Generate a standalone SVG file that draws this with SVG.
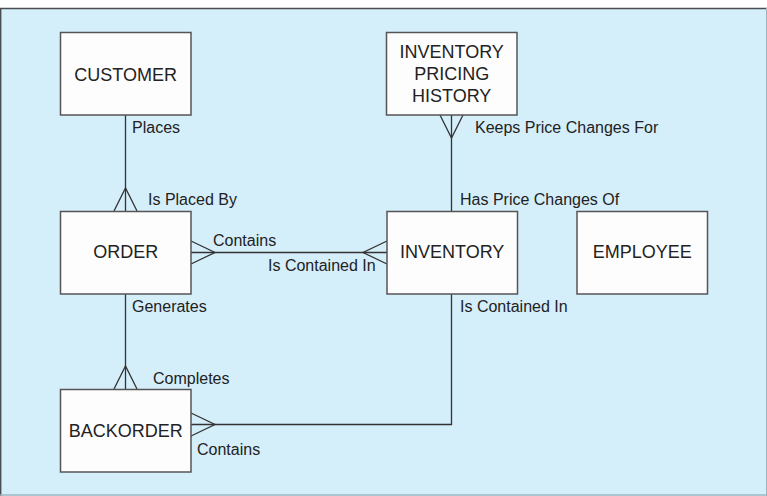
<svg xmlns="http://www.w3.org/2000/svg" width="767" height="496" viewBox="0 0 767 496">
<style>
.node rect{fill:#fdfdfd;stroke:#555;stroke-width:1.5}
.node text{font-family:"Liberation Sans",Arial,sans-serif;font-size:18px;fill:#222;text-anchor:middle}
.conn path{fill:none;stroke:#333;stroke-width:1.3}
.lbl{font-family:"Liberation Sans",Arial,sans-serif;font-size:16px;fill:#222}
</style>
<rect x="0" y="8" width="767" height="488" fill="#d4eefa"/>
<line x1="0" y1="8.5" x2="767" y2="8.5" stroke="#4a4d52" stroke-width="1.6"/>
<line x1="0.7" y1="8" x2="0.7" y2="496" stroke="#4a4d52" stroke-width="1.4"/>
<line x1="0" y1="495" x2="767" y2="495" stroke="#9fb4c2" stroke-width="1.4"/>
<line x1="766.5" y1="8" x2="766.5" y2="496" stroke="#9fb4c2" stroke-width="1"/>
<g class="conn">
<path d="M125.5 115 V211"/>
<path d="M114 211 L125.5 188 L137 211"/>
<path d="M191 252.5 H387"/>
<path d="M191 241 L215 252.5 L191 264"/>
<path d="M387 241 L363 252.5 L387 264"/>
<path d="M451.5 115 V211"/>
<path d="M440 115 L451.5 138 L463 115"/>
<path d="M125.5 294 V389"/>
<path d="M114 389 L125.5 366 L137 389"/>
<path d="M191 424.5 H451.5 V294"/>
<path d="M191 413 L215 424.5 L191 436"/>
</g>
<g id="customer" class="node"><rect x="60.5" y="32.5" width="130.5" height="82.5"/><text x="125.7" y="81">CUSTOMER</text></g>
<g id="order" class="node"><rect x="60.5" y="211.5" width="130.5" height="82.5"/><text x="125.7" y="258">ORDER</text></g>
<g id="inventory" class="node"><rect x="387" y="211.5" width="130.5" height="82.5"/><text x="452.2" y="258">INVENTORY</text></g>
<g id="employee" class="node"><rect x="577" y="211.5" width="130.5" height="82.5"/><text x="642.2" y="258">EMPLOYEE</text></g>
<g id="backorder" class="node"><rect x="60.5" y="389.5" width="130.5" height="82.5"/><text x="125.7" y="437">BACKORDER</text></g>
<g id="pricing_history" class="node"><rect x="386.5" y="32.5" width="130.5" height="82.5"/><text x="451.7" y="58">INVENTORY</text><text x="451.7" y="80">PRICING</text><text x="451.7" y="102">HISTORY</text></g>
<g id="labels">
<text class="lbl" x="132" y="133">Places</text>
<text class="lbl" x="148" y="205">Is Placed By</text>
<text class="lbl" x="213" y="246">Contains</text>
<text class="lbl" x="268" y="271">Is Contained In</text>
<text class="lbl" x="132" y="312">Generates</text>
<text class="lbl" x="153" y="384">Completes</text>
<text class="lbl" x="197" y="455">Contains</text>
<text class="lbl" x="475" y="133">Keeps Price Changes For</text>
<text class="lbl" x="460" y="205">Has Price Changes Of</text>
<text class="lbl" x="460" y="312">Is Contained In</text>
</g>
</svg>
